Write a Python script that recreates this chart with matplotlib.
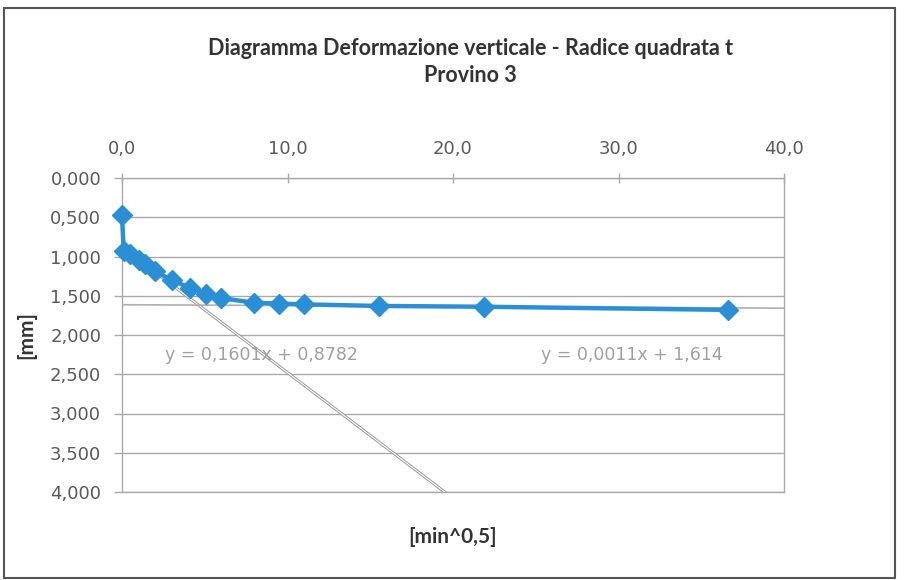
import numpy as np
import matplotlib
matplotlib.use("Agg")
import matplotlib.pyplot as plt
from matplotlib.ticker import FuncFormatter, MultipleLocator
from matplotlib.patches import Rectangle

# radice del tempo [min^0,5] e deformazione verticale [mm]
sqrt_t = [0.0, 0.1, 0.5, 1.0, 1.4, 2.0, 3.0, 4.1, 5.1, 6.0, 8.0, 9.5, 11.0, 15.5, 21.9, 36.6]
deform = [0.47, 0.93, 0.97, 1.04, 1.10, 1.19, 1.30, 1.40, 1.48, 1.53, 1.59, 1.60, 1.61, 1.63, 1.64, 1.68]

# linee di tendenza (pendenza, intercetta) come nel foglio excel
trend_1 = (0.1601, 0.8782)
trend_2 = (0.0011, 1.614)
trend_labels = ["y = 0,1601x + 0,8782", "y = 0,0011x + 1,614"]
label_pos = [(8.4, 2.25), (30.8, 2.25)]

title = "Diagramma Deformazione verticale - Radice quadrata t\nProvino 3"

plt.rcParams['font.family'] = ['Lato', 'DejaVu Sans']

blue = '#2b8fd6'
grid_col = '#a9a9a9'
text_col = '#5a5a5a'
dark = '#333333'


def comma(fmt):
    return FuncFormatter(lambda v, pos: (fmt % v).replace('.', ','))


fig = plt.figure(figsize=(9.06, 5.80), dpi=100)
ax = fig.add_axes([122/906, 1-492/580, (784-122)/906, (492-178)/580])

# linea 1: da x=0 fino al bordo inferiore (y=4)
m1, q1 = trend_1
x1 = np.array([0.0, (4.0 - q1) / m1])
ax.plot(x1, m1*x1 + q1, color='#9a9a9a', lw=2.2, zorder=3)
ax.plot(x1, m1*x1 + q1, color='white', lw=0.8, zorder=3)
m2, q2 = trend_2
x2 = np.array([0.0, 40.0])
ax.plot(x2, m2*x2 + q2, color='#b0b0b0', lw=1.2, zorder=3)

ax.plot(sqrt_t, deform, color=blue, lw=3.2, marker='D', markersize=10, zorder=4, clip_on=False)

for txt, (tx, ty) in zip(trend_labels, label_pos):
    ax.text(tx, ty, txt, color='#a0a0a0', fontsize=12.5, family='DejaVu Sans',
            ha='center', va='center')

ax.set_xlim(0, 40)
ax.set_ylim(4, 0)
ax.xaxis.tick_top()
ax.xaxis.set_major_locator(MultipleLocator(10))
ax.yaxis.set_major_locator(MultipleLocator(0.5))
ax.xaxis.set_major_formatter(comma('%.1f'))
ax.yaxis.set_major_formatter(comma('%.3f'))
ax.tick_params(axis='x', direction='inout', length=7, width=1, color=grid_col,
               labelcolor=text_col, labelsize=13, pad=11)
ax.tick_params(axis='y', direction='out', length=6, width=1, color=grid_col,
               labelcolor=text_col, labelsize=13, pad=9)
for lab in ax.get_xticklabels() + ax.get_yticklabels():
    lab.set_family('DejaVu Sans')
ax.grid(axis='y', color=grid_col, lw=1)
ax.set_axisbelow(True)
for s in ax.spines.values():
    s.set_color(grid_col)
    s.set_linewidth(1)

ax.xaxis.set_label_position('bottom')
ax.set_xlabel('[min^0,5]', fontsize=15, fontweight='bold', color=dark, labelpad=25)
ax.set_ylabel('[mm]', fontsize=15, fontweight='bold', color=dark, labelpad=10)

fig.text(470/906, 1-62/580, title, ha='center', va='center', fontsize=15.5,
         fontweight='bold', color=dark, linespacing=1.4)

# cornice esterna del grafico
fig.patches.append(Rectangle((4/906, 2/580), 891/906, 570/580, transform=fig.transFigure,
                             fill=False, edgecolor='#555555', lw=1.5))

fig.savefig('out.png', dpi=100)
